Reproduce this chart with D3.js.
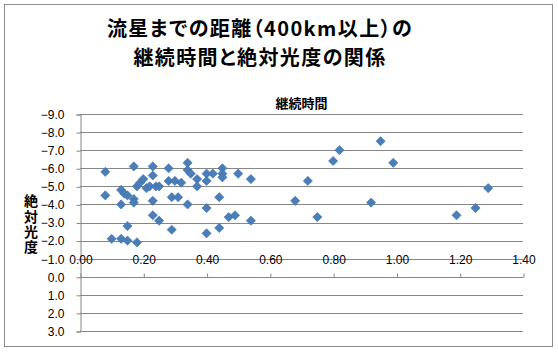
<!DOCTYPE html>
<html>
<head>
<meta charset="utf-8">
<script src="https://cdn.jsdelivr.net/npm/d3@7"></script>
<style>
  body { margin: 0; background: #fff; }
  svg { display: block; }
  .tick-label { font-family: "Liberation Sans", Arial, sans-serif; font-size: 12px; fill: #000; }
  .jp { font-family: "Noto Sans CJK JP", sans-serif; font-weight: bold; fill: #000; }
</style>
</head>
<body>
<div id="chart"></div>
<script>
// 継続時間 (s) and 絶対光度 (mag)
const duration = [
  0.08, 0.08, 0.10, 0.13, 0.15, 0.18, 0.15, 0.13, 0.14, 0.13,
  0.15, 0.17, 0.17, 0.17, 0.18, 0.19, 0.20, 0.21, 0.22, 0.24,
  0.25, 0.23, 0.23, 0.23, 0.23, 0.25, 0.29, 0.28, 0.28, 0.30,
  0.32, 0.29, 0.31, 0.34, 0.34, 0.35, 0.37, 0.37, 0.40, 0.42,
  0.40, 0.45, 0.45, 0.45, 0.50, 0.54, 0.34, 0.40, 0.44, 0.47,
  0.49, 0.54, 0.40, 0.44, 0.68, 0.72, 0.75, 0.80, 0.82, 0.92,
  0.95, 0.99, 1.19, 1.25, 1.29
];
const magnitude = [
  -5.8, -4.5, -2.1, -2.1, -2.0, -1.9, -2.8, -4.8, -4.6, -4.0,
  -4.5, -4.3, -4.1, -6.1, -5.0, -5.2, -5.4, -4.9, -5.0, -5.0,
  -5.0, -6.1, -5.6, -4.2, -3.4, -3.1, -2.6, -6.0, -5.3, -5.3,
  -5.2, -4.4, -4.4, -6.3, -5.9, -5.7, -5.4, -5.0, -5.7, -5.7,
  -5.3, -6.0, -5.7, -5.5, -5.7, -5.4, -4.0, -3.8, -4.4, -3.3,
  -3.4, -3.1, -2.4, -2.7, -4.2, -5.3, -3.3, -6.4, -7.0, -4.1,
  -7.5, -6.3, -3.4, -3.8, -4.9
];
const xTicks = [0, 0.2, 0.4, 0.6, 0.8, 1.0, 1.2, 1.4];
const yTicks = [-9, -8, -7, -6, -5, -4, -3, -2, -1, 0, 1, 2, 3];
const titleLines = ["流星までの距離（400km以上）の", "継続時間と絶対光度の関係"];
const xTitle = "継続時間";
const yTitle = "絶対光度";

const W = 558, H = 352;
const plot = {left: 80, right: 523, top: 114, bottom: 331};
const gridColor = "#868686";

const svg = d3.select("#chart").append("svg")
  .attr("width", W)
  .attr("height", H);

// chart area border
svg.append("rect")
  .attr("x", 4.5).attr("y", 4.5)
  .attr("width", 548).attr("height", 342)
  .attr("fill", "#fff")
  .attr("stroke", "#8c8c8c");

const x = d3.scaleLinear().domain([0, 1.4]).range([plot.left, plot.right]);
// magnitude axis is reversed: brighter (negative) at top
const y = d3.scaleLinear().domain([-9, 3]).range([plot.top, plot.bottom]);

// horizontal gridlines
svg.append("g")
  .selectAll("line")
  .data(yTicks)
  .join("line")
  .attr("x1", plot.left).attr("x2", plot.right)
  .attr("y1", d => Math.round(y(d)) + 0.5)
  .attr("y2", d => Math.round(y(d)) + 0.5)
  .attr("stroke", gridColor);

// y axis
const yAxis = svg.append("g")
  .attr("transform", `translate(${plot.left + 0.5},0.5)`)
  .call(d3.axisLeft(y).tickValues(yTicks).tickSize(4).tickPadding(12)
    .tickFormat(d3.format(".1f")));
yAxis.selectAll("path, line").attr("stroke", gridColor);
yAxis.selectAll("text").attr("class", "tick-label").attr("font-family", null).attr("font-size", null);

// x axis crosses at magnitude 0, labels placed above it
const xAxis = svg.append("g")
  .attr("transform", `translate(0.5,${Math.round(y(0)) + 0.5})`)
  .call(d3.axisTop(x).tickValues(xTicks).tickSize(4).tickPadding(10)
    .tickFormat(d3.format(".2f")));
xAxis.select(".domain").attr("d", `M${plot.left},0H${plot.right}`);
xAxis.selectAll("path, line").attr("stroke", gridColor);
xAxis.selectAll("text").attr("class", "tick-label").attr("font-family", null).attr("font-size", null);

// points
const diamond = "M0,-4.6L4.6,0L0,4.6L-4.6,0Z";
svg.append("g")
  .selectAll("path")
  .data(duration.map((d, i) => [d, magnitude[i]]))
  .join("path")
  .attr("d", diamond)
  .attr("transform", d => `translate(${x(d[0])},${y(d[1])})`)
  .attr("fill", "#4A7EBB")
  .attr("stroke", "#3F6FA8")
  .attr("stroke-width", 0.6);

// title, two lines
svg.append("g")
  .selectAll("text")
  .data(titleLines)
  .join("text")
  .attr("class", "jp")
  .attr("x", 260)
  .attr("y", (d, i) => 35.5 + i * 29.5)
  .attr("text-anchor", "middle")
  .attr("font-size", 20)
  .style("font-feature-settings", "'palt'")
  .style("letter-spacing", "1.4px")
  .text(d => d);

svg.append("text")
  .attr("class", "jp")
  .attr("x", (plot.left + plot.right) / 2)
  .attr("y", 103)
  .attr("dy", "0.36em")
  .attr("text-anchor", "middle")
  .attr("font-size", 13)
  .text(xTitle);

// vertical (stacked) axis title as one text element
svg.append("text")
  .attr("class", "jp")
  .attr("x", 31)
  .attr("y", 194)
  .attr("font-size", 14)
  .style("writing-mode", "vertical-rl")
  .style("letter-spacing", "1.3px")
  .text(yTitle);
</script>
</body>
</html>
